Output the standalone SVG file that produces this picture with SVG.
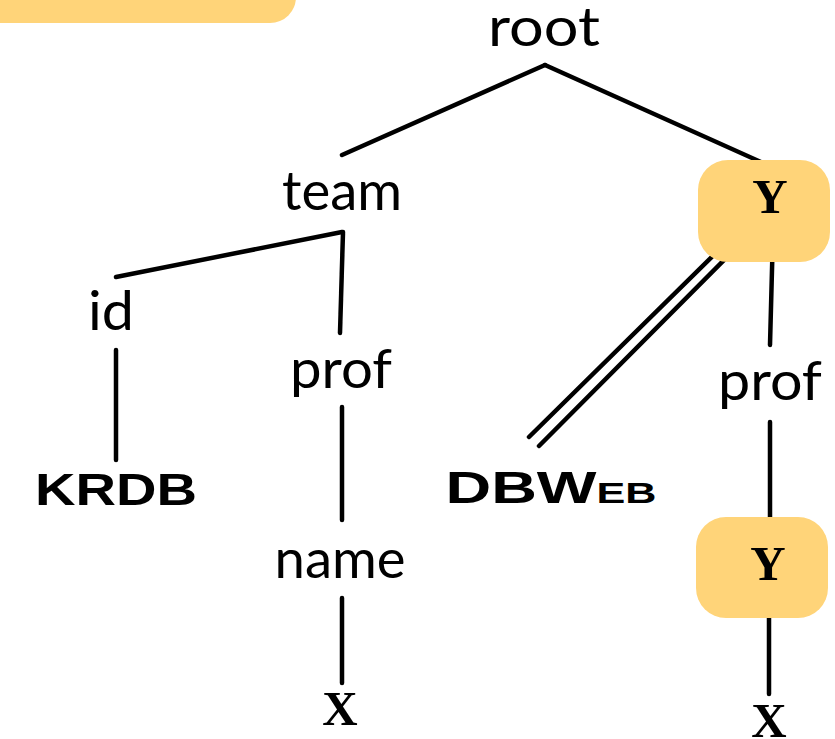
<svg xmlns="http://www.w3.org/2000/svg" width="835" height="739" viewBox="0 0 835 739">
  <style>
    .hl { fill: #FFD479; }
    .edge { stroke: #000; stroke-width: 4.5; stroke-linecap: round; fill: none; }
    .lbl { font-family: "Lato", "Open Sans", "Liberation Sans", sans-serif; font-size: 54px; fill: #000; text-anchor: middle; }
    .cap { font-family: "Liberation Sans", "DejaVu Sans", sans-serif; font-weight: bold; font-size: 44px; fill: #000; text-anchor: middle; }
    .var { font-family: "Liberation Serif", "DejaVu Serif", serif; font-weight: bold; font-size: 49px; fill: #000; text-anchor: middle; }
  </style>
  <rect width="835" height="739" fill="#fff"/>
  <!-- banner at the top-left corner -->
  <rect class="hl" x="-40" y="-60" width="336" height="83" rx="26"/>

  <g id="connectors">
    <line class="edge" x1="545" y1="65" x2="342" y2="155"/>
    <line class="edge" x1="545" y1="65" x2="772" y2="167"/>
    <line class="edge" x1="342" y1="232" x2="116" y2="277"/>
    <line class="edge" x1="343" y1="232" x2="340" y2="333"/>
    <line class="edge" x1="116" y1="350" x2="116" y2="460"/>
    <line class="edge" x1="342" y1="407" x2="342" y2="520"/>
    <line class="edge" x1="342" y1="598" x2="342" y2="683"/>
    <line class="edge" x1="729" y1="240" x2="529" y2="437"/>
    <line class="edge" x1="739" y1="245" x2="539" y2="446"/>
    <line class="edge" x1="773" y1="232" x2="770" y2="345"/>
    <line class="edge" x1="770" y1="422" x2="770" y2="535"/>
    <line class="edge" x1="769" y1="598" x2="769" y2="694"/>
  </g>

  <g id="root"><text class="lbl" x="544" y="46" textLength="112" lengthAdjust="spacingAndGlyphs">root</text></g>
  <g id="team"><text class="lbl" x="342" y="210" textLength="120" lengthAdjust="spacingAndGlyphs">team</text></g>
  <g id="id"><text class="lbl" x="111" y="330" textLength="46" lengthAdjust="spacingAndGlyphs">id</text></g>
  <g id="prof1"><text class="lbl" x="341" y="388" textLength="102" lengthAdjust="spacingAndGlyphs">prof</text></g>
  <g id="name"><text class="lbl" x="340" y="578" textLength="131" lengthAdjust="spacingAndGlyphs">name</text></g>
  <g id="krdb"><text class="cap" x="116" y="505" textLength="162" lengthAdjust="spacingAndGlyphs">KRDB</text></g>
  <g id="x1"><text class="var" x="340" y="725">X</text></g>
  <g id="y1">
    <rect class="hl" x="698" y="160" width="132" height="102" rx="30"/>
    <text class="var" x="770" y="213">Y</text>
  </g>
  <g id="dbweb"><text class="cap" x="551" y="503" textLength="211" lengthAdjust="spacingAndGlyphs">DBW<tspan font-size="30">EB</tspan></text></g>
  <g id="prof2"><text class="lbl" x="770" y="400" textLength="104" lengthAdjust="spacingAndGlyphs">prof</text></g>
  <g id="y2">
    <rect class="hl" x="696" y="517" width="132" height="101" rx="30"/>
    <text class="var" x="768" y="580">Y</text>
  </g>
  <g id="x2"><text class="var" x="769" y="737">X</text></g>
</svg>
